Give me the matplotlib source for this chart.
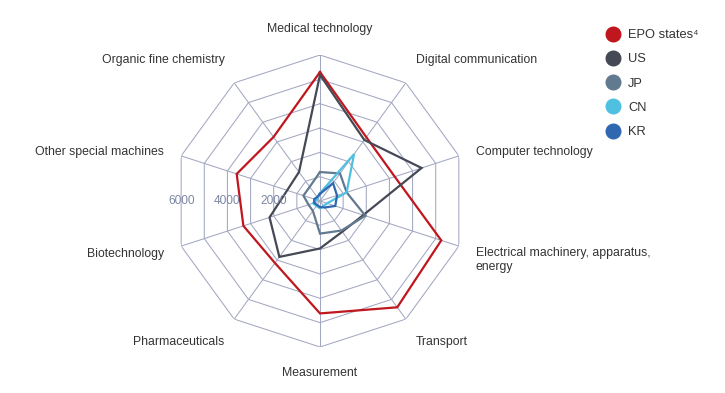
import numpy as np
import matplotlib
matplotlib.use("Agg")
import matplotlib.pyplot as plt
from matplotlib.lines import Line2D

plt.rcParams['font.family'] = ['Liberation Sans', 'DejaVu Sans']

categories = ['Medical technology', 'Digital communication', 'Computer technology',
              'Electrical machinery, apparatus,\nenergy', 'Transport', 'Measurement',
              'Pharmaceuticals', 'Biotechnology', 'Other special machines',
              'Organic fine chemistry']

series_names = ['EPO states\u2074', 'US', 'JP', 'CN', 'KR']
epo = [5300, 3240, 3230, 5240, 5400, 4620, 3150, 3310, 3600, 3250]
us = [5180, 3100, 4390, 1870, 1560, 1950, 2840, 2180, 1420, 1470]
jp = [1190, 1400, 1150, 1960, 1500, 1340, 500, 495, 716, 720]
cn = [320, 2380, 1150, 310, 245, 300, 250, 300, 150, 150]
kr = [290, 910, 735, 660, 330, 250, 200, 250, 250, 200]

ring_values = [1000, 2000, 3000, 4000, 5000, 6000]
tick_labels = [2000, 4000, 6000]
rmax = 6000

colors = ['#c0161d', '#444955', '#627a8f', '#50c0e0', '#2f67b0']
grid_color = '#a3a8c2'
text_color = '#333333'

fig = plt.figure(figsize=(7.25, 3.93), dpi=100)
# center at (320, 201) px, radius 146 px
W, H = 725, 393
cx, cy, R = 320, 201, 146
ax = fig.add_axes([(cx - R) / W, (H - cy - R) / H, 2 * R / W, 2 * R / H], projection='polar')
ax.set_theta_zero_location('N')
ax.set_theta_direction(-1)
ax.set_ylim(0, rmax)
ax.set_axis_off()

n = len(categories)
theta = np.arange(n) * 2 * np.pi / n
theta_c = np.append(theta, theta[0])

for v in ring_values:
    ax.plot(theta_c, [v] * (n + 1), color=grid_color, lw=0.75, zorder=1)
for t in theta:
    ax.plot([t, t], [0, rmax], color=grid_color, lw=0.75, zorder=1)

for i, (name, vals) in enumerate(zip(series_names, [epo, us, jp, cn, kr])):
    ax.plot(theta_c, list(vals) + [vals[0]], color=colors[i], lw=1.6, zorder=3 + i,
            solid_joinstyle='miter')

# radial tick labels on the left side
for v in tick_labels:
    ax.text(-np.pi / 2, v * np.cos(np.pi / 10), f'{v}', ha='center', va='center',
            fontsize=8.6, color='#7d86a5', zorder=10)

# category labels
for t, lab in zip(theta, categories):
    deg = np.degrees(t) % 360
    dx = 20 * np.sin(t)
    dy = 20 * np.cos(t)
    if deg < 1:
        ha, va, ex, ey = 'center', 'bottom', 0, 0
    elif abs(deg - 180) < 1:
        ha, va, ex, ey = 'center', 'top', 0, 0
    else:
        ha = 'left' if deg < 180 else 'right'
        va = 'center'
        if abs(deg - 324) < 1 or abs(deg - 36) < 1:
            ex, ey = -2 if deg < 180 else 2, 7
        elif abs(deg - 144) < 1 or abs(deg - 216) < 1:
            ex, ey = -2 if deg < 180 else 2, -7
        elif abs(deg - 108) < 1:
            ex, ey = -2, -8
        else:
            ex, ey = -2 if deg < 180 else 2, -2
    ax.annotate(lab, xy=(t, rmax), xytext=(dx + ex, dy + ey), textcoords='offset pixels',
                ha=ha, va=va, fontsize=8.8, color=text_color, annotation_clip=False,
                linespacing=1.25)

handles = [Line2D([], [], marker='o', linestyle='none', markersize=10.5,
                  markerfacecolor=c, markeredgecolor=c) for c in colors]
leg = fig.legend(handles, series_names, loc='upper left', bbox_to_anchor=(607 / W, 1 - 29 / H),
                 frameon=False, fontsize=9.3, handlelength=1.0, handletextpad=0.62,
                 labelspacing=0.95, borderpad=0, borderaxespad=0)
for txt in leg.get_texts():
    txt.set_color(text_color)

fig.savefig('out.png', dpi=100)
